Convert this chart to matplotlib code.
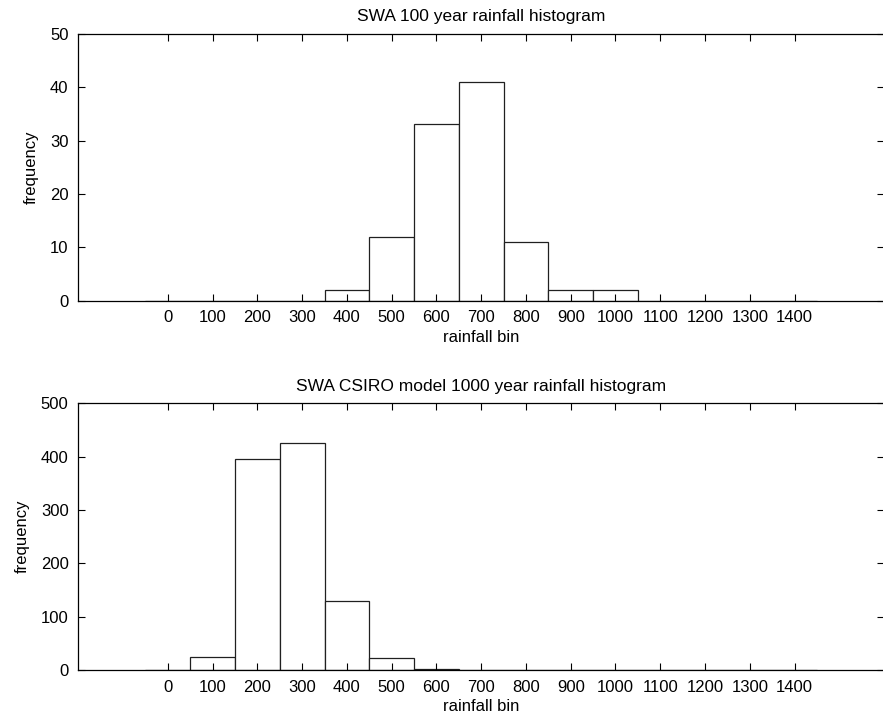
import numpy as np
import matplotlib.pyplot as plt

plt.rcParams['font.family'] = ['Liberation Sans', 'DejaVu Sans']
plt.rcParams['font.size'] = 12

bins = np.arange(0, 1500, 100)
tick_labels = [str(b) for b in bins]
obs_counts = [0, 0, 0, 0, 2, 12, 33, 41, 11, 2, 2, 0, 0, 0, 0]
model_counts = [0, 25, 396, 426, 129, 22, 2, 0, 0, 0, 0, 0, 0, 0, 0]


def hist_panel(ax, counts, title, ymax, yticks):
    ax.bar(bins, counts, width=100, color='white', edgecolor='#202020', linewidth=0.9)
    ax.set_xlim(-200, 1600)
    ax.set_ylim(0, ymax)
    ax.set_xticks(bins)
    ax.set_xticklabels(tick_labels)
    ax.set_yticks(yticks)
    ax.tick_params(direction='in', length=5, width=0.8, top=True, right=True, pad=7)
    for s in ax.spines.values():
        s.set_linewidth(0.9)
    ax.set_title(title, fontsize=12.5, pad=9)
    ax.set_xlabel('rainfall bin', labelpad=3)
    ax.set_ylabel('frequency', labelpad=8)


fig = plt.figure(figsize=(8.83, 7.17), dpi=100)
ax1 = fig.add_axes([0.0887, 0.5806, 0.9125, 0.3724])
ax2 = fig.add_axes([0.0887, 0.0656, 0.9125, 0.3719])

hist_panel(ax1, obs_counts, 'SWA 100 year rainfall histogram', 50, range(0, 51, 10))
hist_panel(ax2, model_counts, 'SWA CSIRO model 1000 year rainfall histogram', 500, range(0, 501, 100))

fig.savefig('out.png', dpi=100)
